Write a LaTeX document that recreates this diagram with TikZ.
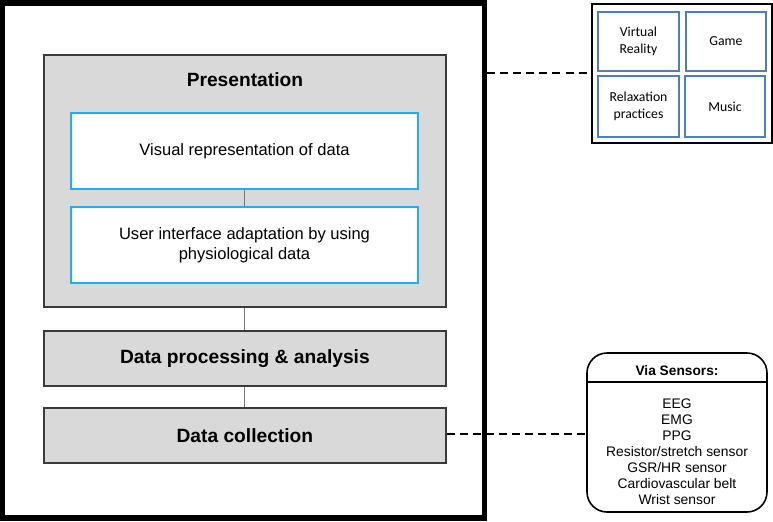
\documentclass[tikz,border=0pt]{standalone}
\usepackage{fontspec}
\setmainfont{Liberation Sans}
\newfontfamily\calibrifont{Carlito}
\definecolor{boxgray}{HTML}{D9D9D9}
\definecolor{edgegray}{HTML}{3A3A3A}
\definecolor{cyanedge}{HTML}{1CB0EE}
\definecolor{celledge}{HTML}{4F7FBA}
\definecolor{linkgray}{HTML}{777777}
\begin{document}
\begin{tikzpicture}[x=0.75pt,y=-0.75pt,
  graybox/.style={draw=edgegray,fill=boxgray,line width=1.1pt,inner sep=0pt,minimum width=301.7pt},
  bluebox/.style={draw=cyanedge,fill=white,line width=1.3pt,inner sep=0pt,minimum width=260.3pt,minimum height=57pt,align=center,font=\fontsize{12.4}{15}\selectfont},
  cellbox/.style={draw=celledge,line width=0.8pt,inner sep=0pt,align=center,font=\calibrifont\fontsize{10.3}{12.6}\selectfont},
  titletext/.style={font=\fontsize{14.4}{17}\selectfont\bfseries},
  link/.style={draw=linkgray,line width=0.7pt},
  dashlink/.style={draw=black,line width=0.9pt,dash pattern=on 6pt off 3.8pt}]
\useasboundingbox (0,0) rectangle (773,521);
\fill[white] (0,0) rectangle (773,521);
% outer frame
\node[draw=black,line width=3.9pt,minimum width=361.5pt,minimum height=386.25pt,inner sep=0pt] (outer) at (243.5,260.5) {};
% presentation group
\node[graybox,minimum height=188.8pt] (pres) at (244.9,180.9) {};
\node[titletext] (prestitle) at (244.9,80) {Presentation};
\node[bluebox] (vis) at (244.5,151) {Visual representation of data};
\node[bluebox] (ui) at (244.5,245) {User interface adaptation by using\\physiological data};
\draw[link] (vis.south) -- (ui.north);
% lower layers
\node[graybox,minimum height=41.25pt,titletext] (proc) at (244.9,358.5) {Data processing \& analysis};
\node[graybox,minimum height=41.25pt,titletext] (coll) at (244.9,435.5) {Data collection};
\draw[link] (pres.south) -- (proc.north);
\draw[link] (proc.south) -- (coll.north);
% media box
\node[draw=black,line width=1.5pt,minimum width=134.6pt,minimum height=104.25pt,inner sep=0pt] (media) at (682,73.5) {};
\node[cellbox,minimum width=60.75pt,minimum height=44.25pt] (vr) at (638.5,41.5) {Virtual\\Reality};
\node[cellbox,minimum width=60pt,minimum height=44.25pt] (game) at (726,41.5) {Game};
\node[cellbox,minimum width=60.75pt,minimum height=45.75pt] (relax) at (638.5,106.5) {Relaxation\\practices};
\node[cellbox,minimum width=60pt,minimum height=45.75pt] (music) at (725,106.5) {Music};
% sensors box
\node[draw=black,line width=1.2pt,rounded corners=15pt,minimum width=135pt,minimum height=119.25pt,inner sep=0pt] (sens) at (677,432.5) {};
\node[font=\fontsize{10.3}{12}\selectfont\bfseries] (senstitle) at (677,370.5) {Via Sensors:};
\coordinate (sepL) at (587,382);
\coordinate (sepR) at (767,382);
\draw[black,line width=1pt] (sepL) -- (sepR);
\node[align=center,font=\fontsize{10.4}{12}\selectfont] (senslist) at (677,451.5) {EEG\\EMG\\PPG\\Resistor/stretch sensor\\GSR/HR sensor\\Cardiovascular belt\\Wrist sensor};
% dashed connectors
\draw[dashlink] (outer.east |- 0,73) -- (media.west |- 0,73);
\draw[dashlink] (coll.east |- 0,434) -- (sens.west |- 0,434);
\end{tikzpicture}
\end{document}
